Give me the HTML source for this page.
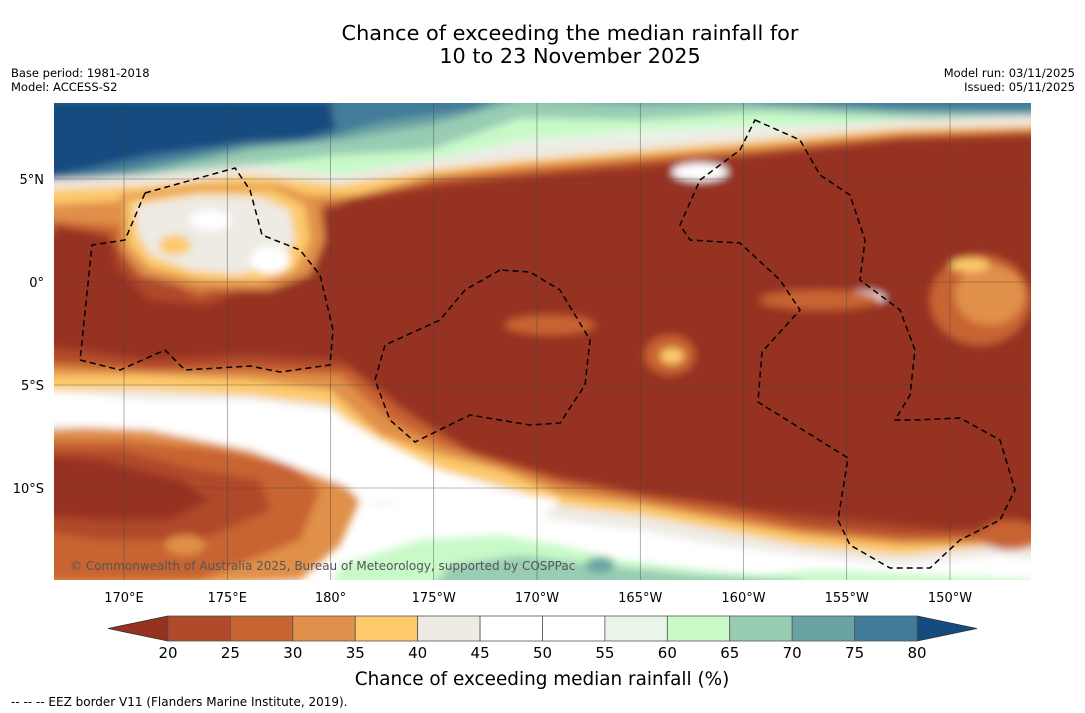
<!DOCTYPE html>
<html><head><meta charset="utf-8"><style>
body{margin:0;background:#fff;font-family:"DejaVu Sans","Liberation Sans",sans-serif;}
#wrap{position:relative;width:1085px;height:713px;overflow:hidden;background:#fff}
.t{position:absolute;white-space:nowrap;color:#000}
</style></head><body>
<div id="wrap">
<div class="t" style="left:0;width:1140px;top:22px;text-align:center;font-size:20.8px;line-height:23px">Chance of exceeding the median rainfall for<br>10 to 23 November 2025</div>
<div class="t" style="left:11px;top:66px;font-size:11.5px;line-height:14px">Base period: 1981-2018<br>Model: ACCESS-S2</div>
<div class="t" style="right:10px;top:66px;font-size:11.5px;line-height:14px;text-align:right">Model run: 03/11/2025<br>Issued: 05/11/2025</div>
<svg id="svg" width="1085" height="713" style="position:absolute;left:0;top:0">
<defs><clipPath id="mc"><rect x="54" y="103" width="977" height="477"/></clipPath>
<filter id="bl"><feGaussianBlur stdDeviation="4"/></filter></defs>
<g clip-path="url(#mc)">
<rect x="54" y="103" width="977" height="477" fill="#fff"/>
<g filter="url(#bl)">
<path d="M40 90H1045V150L900 140 760 150 640 160 520 165 430 175 340 195 250 190 150 215 40 225Z" fill="#e8f5e8"/>
<path d="M40 90H1045V130L900 125 760 125 640 130 520 140 430 160 340 175 250 180 150 200 40 215Z" fill="#c8fac8"/>
<path d="M40 90H1045V122L900 118 760 112 640 120 520 118 430 150 340 155 250 165 150 185 40 205Z" fill="#98cdb4"/>
<path d="M40 90H1045V115L900 112 760 103 640 105 520 100 430 125 340 140 250 150 150 172 40 195Z" fill="#6aa3a3"/>
<path d="M40 90H520L470 110 380 122 320 140 250 145 150 165 40 190Z" fill="#427b9a"/>
<path d="M700 90H1045V112L900 110 760 104Z" fill="#427b9a"/>
<path d="M40 100H330L335 130 300 140 250 142 150 155 40 180Z" fill="#144c80"/>
<ellipse cx="510" cy="158" rx="35" ry="10" fill="#98cdb4"/>
<path d="M330 590L340 565 420 540 500 535 560 545 620 560 700 570 760 575 820 570 1045 580V595H330Z" fill="#c8fac8"/>
<path d="M430 590L450 565 520 555 600 565 700 575 800 580V595Z" fill="#98cdb4"/>
<ellipse cx="600" cy="565" rx="15" ry="8" fill="#6aa3a3"/>
<ellipse cx="330" cy="420" rx="15" ry="8" fill="#c8fac8"/>
<ellipse cx="285" cy="438" rx="18" ry="6" fill="#c8fac8"/>
<path d="M40 180L150 175 250 165 340 175 430 160 520 145 640 140 760 130 900 120 1045 115V560L1000 555 900 565 800 555 720 545 640 530 560 520 500 505 440 500 380 505 330 490 40 460Z" fill="#eeeae4"/>
<path d="M40 190L150 185 250 175 340 185 430 170 520 160 640 150 760 140 900 128 1045 125V550L1000 545 900 555 800 545 720 530 640 515 560 505 500 485 440 470 380 450 330 405 250 395 150 390 40 390Z" fill="#fdc96b"/>
<path d="M40 205L140 200 200 200 300 195 360 195 430 175 520 165 640 155 760 145 900 132 1045 128V545L900 545 800 535 720 520 640 505 560 495 500 470 440 455 380 435 330 390 250 380 150 375 40 375Z" fill="#e0904a"/>
<path d="M40 220L110 225 200 230 300 205 360 200 430 180 520 170 640 160 760 150 900 135 1045 130V540L900 540 800 530 720 515 640 500 560 485 500 465 440 445 390 420 340 375 250 372 150 372 40 365Z" fill="#c86432"/>
<path d="M40 230L110 240 200 300 300 215 360 195 440 180 520 175 640 162 760 152 900 138 1045 132V535L900 535 800 525 720 505 640 495 560 480 500 460 450 440 400 410 350 370 250 365 150 368 40 360Z" fill="#b04a2a"/>
<path d="M40 235L100 250 150 300 210 305 240 290 300 270 300 225 350 200 450 185 540 175 640 168 700 160 760 155 900 140 1045 135V525L950 530 850 520 750 510 650 495 550 475 470 452 420 420 380 390 340 360 250 355 150 360 40 345Z" fill="#963220"/>
<!-- left light region -->
<path d="M120 195L200 185 280 185 320 200 325 240 310 275 270 290 200 290 140 275 120 250Z" fill="#e0904a"/>
<path d="M125 200L200 190 275 190 305 205 310 240 295 270 260 282 200 280 150 268 128 245Z" fill="#fdc96b"/>
<path d="M135 205L200 195 260 197 290 210 295 240 280 262 240 275 190 270 150 255 138 235Z" fill="#eeeae4"/>
<ellipse cx="210" cy="220" rx="22" ry="10" fill="#fff"/>
<ellipse cx="270" cy="260" rx="20" ry="14" fill="#fff"/>
<ellipse cx="175" cy="245" rx="16" ry="10" fill="#fdc96b"/>
<path d="M54 225L110 235 120 280 100 320 54 330Z" fill="#963220"/>
<path d="M40 430L120 425 220 440 300 455 340 470 360 500 340 545 300 580 40 590Z" fill="#e0904a"/>
<path d="M40 440L120 440 220 450 290 465 320 490 300 540 200 580 40 580Z" fill="#c86432"/>
<path d="M40 450L120 450 200 470 260 480 270 510 200 540 100 540 40 530Z" fill="#b04a2a"/>
<path d="M40 455L100 460 180 480 210 500 170 520 100 520 40 515Z" fill="#963220"/>
<path d="M40 390L150 400 250 400 330 410 380 440 440 470 500 490 560 500 540 520 480 520 420 505 360 500 330 470 250 440 150 420 40 420Z" fill="#fff"/>
<path d="M40 400L150 410 250 410 320 420 370 450 430 480 480 500 440 510 380 500 330 480 250 450 150 430 40 425Z" fill="#fff"/>
<ellipse cx="700" cy="172" rx="28" ry="9" fill="#fff"/>
<ellipse cx="860" cy="298" rx="25" ry="7" fill="#fff"/>
<ellipse cx="670" cy="355" rx="25" ry="20" fill="#c86432"/>
<ellipse cx="672" cy="356" rx="12" ry="8" fill="#fdc96b"/>
<ellipse cx="550" cy="325" rx="45" ry="10" fill="#c86432"/>
<ellipse cx="980" cy="300" rx="50" ry="45" fill="#c86432"/>
<ellipse cx="990" cy="295" rx="35" ry="30" fill="#e0904a"/>
<ellipse cx="970" cy="265" rx="20" ry="7" fill="#fdc96b"/>
<ellipse cx="820" cy="300" rx="60" ry="10" fill="#c86432"/>
<ellipse cx="1010" cy="535" rx="30" ry="15" fill="#c86432"/>
<ellipse cx="185" cy="545" rx="20" ry="10" fill="#e0904a"/>
</g>
<g id="grid" stroke="#444" stroke-width="0.6" opacity="0.7"></g>
<g fill="none" stroke="#000" stroke-width="1.5" stroke-dasharray="6,4">
<path d="M755 120L800 140 820 175 850 195 865 240 860 280 900 310 915 350 910 395 895 420 915 420 960 418 1000 440 1015 490 1000 520 960 540 930 568 890 568 850 545 838 520 848 458 758 402 762 352 800 310 780 280 740 243 690 240 680 225 700 180 740 150Z"/>
<path d="M500 270L465 290 440 320 385 345 375 380 390 420 415 442 470 415 530 425 560 423 585 385 590 340 560 290 530 272Z"/>
<path d="M145 193L235 168 250 190 262 235 300 250 320 275 333 330 330 365 280 372 250 366 185 370 165 350 120 370 80 360 92 245 125 240Z"/>
</g>
<text x="70" y="570" font-size="12" fill="#555" font-family="DejaVu Sans,sans-serif">© Commonwealth of Australia 2025, Bureau of Meteorology, supported by COSPPac</text>
</g>
<g id="axes" font-size="13" font-family="DejaVu Sans,sans-serif"></g>
<g id="cbar"></g>
<text x="542" y="685" text-anchor="middle" font-size="18.4" font-family="DejaVu Sans,sans-serif">Chance of exceeding median rainfall (%)</text>
<text x="11" y="706" font-size="12" font-family="DejaVu Sans,sans-serif">--  --  -- EEZ border V11 (Flanders Marine Institute, 2019).</text>
</svg>
</div>
<script>
const lonTicks=[170,175,180,-175,-170,-165,-160,-155,-150];
const lonLabels=["170°E","175°E","180°","175°W","170°W","165°W","160°W","155°W","150°W"];
const latTicks=[5,0,-5,-10];
const latLabels=["5°N","0°","5°S","10°S"];
const levels=[20,25,30,35,40,45,50,55,60,65,70,75,80];
const colors=["#b04a2a","#c86432","#e0904a","#fdc96b","#eeeae4","#ffffff","#ffffff","#e8f5e8","#c8fac8","#98cdb4","#6aa3a3","#427b9a"];
const lowColor="#963220",highColor="#144c80";
const NS="http://www.w3.org/2000/svg";
function xLon(l){let e=l<0?l+360:l;return 124+(e-170)*20.65;}
function yLat(l){return 282-l*20.6;}
function xLev(v){return 168+(v-20)/60*749;}
function mk(t,a,p){const e=document.createElementNS(NS,t);for(const k in a)e.setAttribute(k,a[k]);p.appendChild(e);return e;}
const grid=document.getElementById('grid'),axes=document.getElementById('axes'),cb=document.getElementById('cbar');
lonTicks.forEach((l,i)=>{const x=xLon(l);
 const ln=mk('line',{x1:x,x2:x,y1:103,y2:580},grid);
 
 
 const t=mk('text',{x:x,y:602,'text-anchor':'middle'},axes);t.textContent=lonLabels[i];
 
 });
latTicks.forEach((l,i)=>{const y=yLat(l);
 const ln=mk('line',{x1:54,x2:1031,y1:y,y2:y},grid);
 
 
 const t=mk('text',{x:44,y:y+5,'text-anchor':'end'},axes);t.textContent=latLabels[i];
 
 });
const lo=mk('polygon',{points:`108,628.5 ${xLev(20)},616 ${xLev(20)},641`,fill:lowColor,stroke:'#333','stroke-width':0.8},cb);


const hi=mk('polygon',{points:`977,628.5 ${xLev(80)},616 ${xLev(80)},641`,fill:highColor,stroke:'#333','stroke-width':0.8},cb);


colors.forEach((c,i)=>{const x0=xLev(levels[i]),x1=xLev(levels[i+1]);
 const r=mk('rect',{x:x0,y:616,width:x1-x0,height:25,fill:c,stroke:'#555','stroke-width':0.8},cb);
 
 });
levels.forEach(v=>{const t=mk('text',{x:xLev(v),y:658,'text-anchor':'middle','font-size':15,'font-family':'DejaVu Sans,sans-serif'},cb);t.textContent=v;
 
 });
</script>
</body></html>
